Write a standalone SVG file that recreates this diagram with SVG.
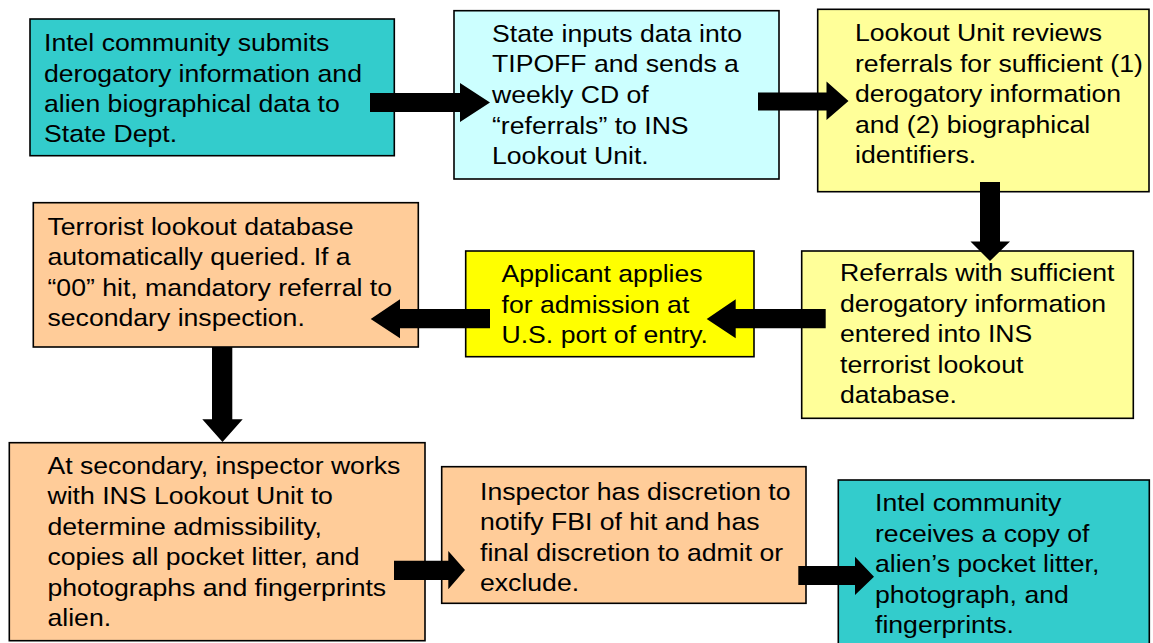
<svg xmlns="http://www.w3.org/2000/svg" width="1153" height="643" viewBox="0 0 1153 643">
<style>
.box{stroke:#000;stroke-width:1.6}
.teal{fill:#33CCCC}.cyan{fill:#CCFFFF}.lyel{fill:#FFFF99}.peach{fill:#FFCC99}.yel{fill:#FFFF00}
.t{font-family:"Liberation Sans",Arial,Helvetica,sans-serif;font-size:24.2px;fill:#000}
.arr{fill:#000}
</style>
<rect width="1153" height="643" fill="#fff"/>
<g id="n1">
<rect class="box teal" x="30" y="19" width="364.3" height="136.7"/>
<text class="t" transform="translate(44 0) scale(1.1 1)"><tspan x="0" y="51.5">Intel community submits</tspan><tspan x="0" y="81.8">derogatory information and</tspan><tspan x="0" y="112">alien biographical data to</tspan><tspan x="0" y="142.3">State Dept.</tspan></text>
</g>
<g id="n2">
<rect class="box cyan" x="454" y="10.7" width="325" height="168.3"/>
<text class="t" transform="translate(492 0) scale(1.1 1)"><tspan x="0" y="41.7">State inputs data into</tspan><tspan x="0" y="72.4">TIPOFF and sends a</tspan><tspan x="0" y="103.1">weekly CD of</tspan><tspan x="0" y="133.8">“referrals” to INS</tspan><tspan x="0" y="164.5">Lookout Unit.</tspan></text>
</g>
<g id="n3">
<rect class="box lyel" x="817.7" y="9.3" width="331.3" height="182.4"/>
<text class="t" transform="translate(855 0) scale(1.1 1)"><tspan x="0" y="41.5">Lookout Unit reviews</tspan><tspan x="0" y="72">referrals for sufficient (1)</tspan><tspan x="0" y="102.5">derogatory information</tspan><tspan x="0" y="133">and (2) biographical</tspan><tspan x="0" y="163.5">identifiers.</tspan></text>
</g>
<g id="n4">
<rect class="box peach" x="33.3" y="202.7" width="385" height="144.3"/>
<text class="t" transform="translate(47.5 0) scale(1.1 1)"><tspan x="0" y="235">Terrorist lookout database</tspan><tspan x="0" y="265.5">automatically queried. If a</tspan><tspan x="0" y="296">“00” hit, mandatory referral to</tspan><tspan x="0" y="326.5">secondary inspection.</tspan></text>
</g>
<g id="n5">
<rect class="box yel" x="465.7" y="251" width="288.3" height="105.7"/>
<text class="t" transform="translate(501.5 0) scale(1.1 1)"><tspan x="0" y="282.5">Applicant applies</tspan><tspan x="0" y="313">for admission at</tspan><tspan x="0" y="343.5">U.S. port of entry.</tspan></text>
</g>
<g id="n6">
<rect class="box lyel" x="801.7" y="251" width="331.6" height="167.3"/>
<text class="t" transform="translate(840 0) scale(1.1 1)"><tspan x="0" y="281.5">Referrals with sufficient</tspan><tspan x="0" y="312">derogatory information</tspan><tspan x="0" y="342.5">entered into INS</tspan><tspan x="0" y="373">terrorist lookout</tspan><tspan x="0" y="403.5">database.</tspan></text>
</g>
<g id="n7">
<rect class="box peach" x="9.3" y="442.7" width="415.7" height="198"/>
<text class="t" transform="translate(47.5 0) scale(1.1 1)"><tspan x="0" y="474">At secondary, inspector works</tspan><tspan x="0" y="504.5">with INS Lookout Unit to</tspan><tspan x="0" y="535">determine admissibility,</tspan><tspan x="0" y="565.5">copies all pocket litter, and</tspan><tspan x="0" y="596">photographs and fingerprints</tspan><tspan x="0" y="626.5">alien.</tspan></text>
</g>
<g id="n8">
<rect class="box peach" x="441.7" y="466.7" width="364.3" height="136.6"/>
<text class="t" transform="translate(480 0) scale(1.1 1)"><tspan x="0" y="500">Inspector has discretion to</tspan><tspan x="0" y="530.5">notify FBI of hit and has</tspan><tspan x="0" y="561">final discretion to admit or</tspan><tspan x="0" y="591.5">exclude.</tspan></text>
</g>
<g id="n9">
<rect class="box teal" x="838.3" y="480" width="311" height="175"/>
<text class="t" transform="translate(875 0) scale(1.1 1)"><tspan x="0" y="511.5">Intel community</tspan><tspan x="0" y="542">receives a copy of</tspan><tspan x="0" y="572.5">alien’s pocket litter,</tspan><tspan x="0" y="603">photograph, and</tspan><tspan x="0" y="633.5">fingerprints.</tspan></text>
</g>
<g id="connectors">
<polygon class="arr" points="370,93 460,93 460,83 490,102.5 460,122 460,112 370,112"/>
<polygon class="arr" points="758,92.5 826.5,92.5 826.5,81.5 848.5,101 826.5,120 826.5,110.5 758,110.5"/>
<polygon class="arr" points="980,182 1000,182 1000,241.5 1010,241.5 990,261 970.5,241.5 980,241.5"/>
<polygon class="arr" points="825.7,309 735.7,309 735.7,299.3 706.7,319 735.7,338.3 735.7,328.3 825.7,328.3"/>
<polygon class="arr" points="490,309 400,309 400,299.3 370.7,319 400,338.3 400,328.3 490,328.3"/>
<polygon class="arr" points="212,347 232.3,347 232.3,419.3 242.7,419.3 222.5,442 202.3,419.3 212,419.3"/>
<polygon class="arr" points="394,560.7 448.3,560.7 448.3,551 465,570 448.3,589.3 448.3,580 394,580"/>
<polygon class="arr" points="798.3,566 855,566 855,556.7 874,576.7 855,595 855,585 798.3,585"/>
</g>
</svg>
